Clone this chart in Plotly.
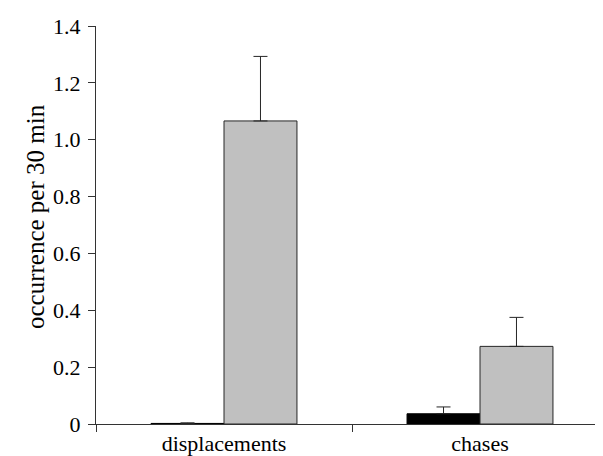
import plotly.graph_objects as go

categories = ["displacements", "chases"]
black_values = [0.002, 0.036]
black_errors = [0.002, 0.024]
grey_values = [1.066, 0.273]
grey_errors = [0.227, 0.102]
y_ticks = [0, 0.2, 0.4, 0.6, 0.8, 1.0, 1.2, 1.4]
y_tick_labels = ["0", "0.2", "0.4", "0.6", "0.8", "1.0", "1.2", "1.4"]

FONT = "Liberation Serif, Times New Roman, serif"
EDGE = "#262626"

fig = go.Figure()
fig.add_trace(go.Bar(
    x=categories, y=black_values, name="black",
    marker=dict(color="black", line=dict(color="black", width=1)),
    error_y=dict(type="data", array=black_errors, arrayminus=[0, 0], symmetric=False,
                 color=EDGE, thickness=1, width=7),
))
fig.add_trace(go.Bar(
    x=categories, y=grey_values, name="grey",
    marker=dict(color="#c0c0c0", line=dict(color=EDGE, width=1)),
    error_y=dict(type="data", array=grey_errors, arrayminus=[0, 0], symmetric=False,
                 color=EDGE, thickness=1, width=7),
))

fig.update_layout(
    width=603, height=456,
    margin=dict(l=88, r=3, t=18, b=40),
    paper_bgcolor="white", plot_bgcolor="white",
    barmode="group", bargap=0.43, bargroupgap=0,
    showlegend=False,
    font=dict(family=FONT, size=22, color="black"),
    xaxis=dict(
        type="category", range=[-0.5, 1.5],
        showline=True, linecolor="#333333", linewidth=1,
        ticks="outside", tickson="boundaries", ticklen=7, tickcolor="#333333",
        showgrid=False, zeroline=False,
        tickfont=dict(family=FONT, size=22),
    ),
    yaxis=dict(
        range=[0, 1.4], tickvals=y_ticks, ticktext=y_tick_labels,
        showline=True, linecolor="#333333", linewidth=1,
        ticks="outside", ticklen=7, tickcolor="#333333",
        showgrid=False, zeroline=False, ticklabelstandoff=3,
        tickfont=dict(family=FONT, size=22),
    ),
    annotations=[dict(
        text="occurrence per 30 min", textangle=-90,
        xref="paper", yref="paper", x=0, y=0.52,
        xanchor="center", yanchor="middle", xshift=-61, showarrow=False,
        font=dict(family=FONT, size=25, color="black"),
    )],
)

fig.write_html("out.html")
